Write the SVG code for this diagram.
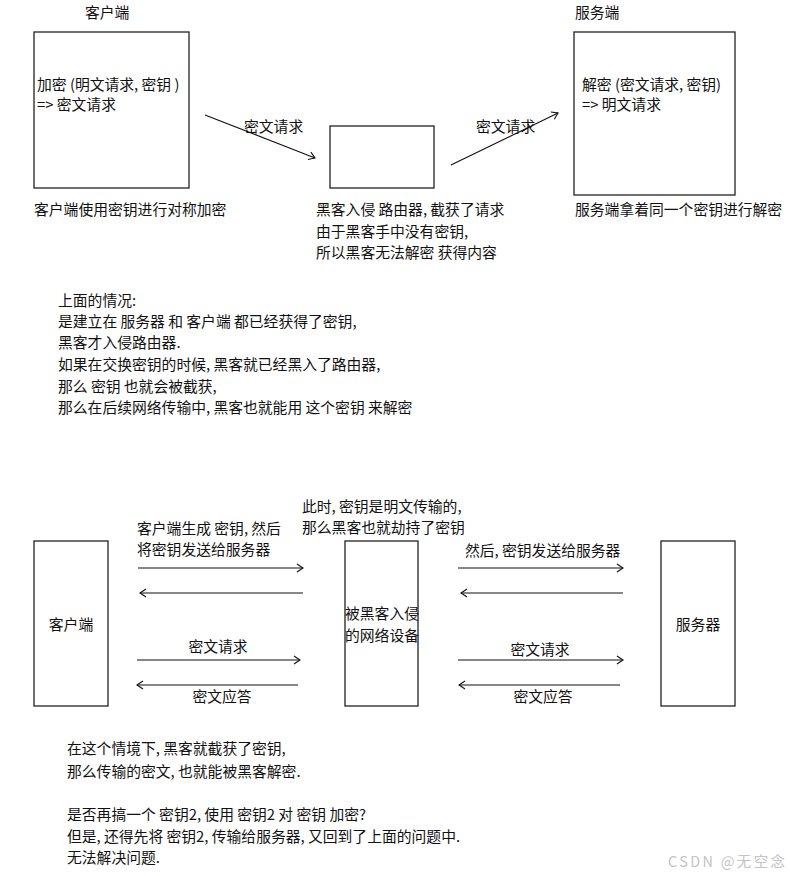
<svg xmlns="http://www.w3.org/2000/svg" width="790" height="876" viewBox="0 0 790 876">
<style>
text{font-family:"Noto Sans CJK SC","Liberation Sans",sans-serif;font-size:14.8px;fill:#111}
.box{fill:#fff;stroke:#222;stroke-width:1.3}
.ln{stroke:#111;stroke-width:1.1;fill:none}
.c{text-anchor:middle}
.wm{fill:#c4c4c4;font-size:14.5px}
</style>
<defs>
<marker id="ah" markerWidth="10" markerHeight="10" refX="8" refY="5" orient="auto" markerUnits="userSpaceOnUse">
<path d="M2,1 L8,5 L2,9" fill="none" stroke="#111" stroke-width="1.1"/>
</marker>
</defs>
<rect width="790" height="876" fill="#fff"/>

<g id="client-top">
<text x="85" y="18">客户端</text>
<rect class="box" x="34" y="32" width="155" height="156"/>
<text x="37" y="90">加密 (明文请求, 密钥 )</text>
<text x="37" y="110">=&gt; 密文请求</text>
<text x="34" y="215">客户端使用密钥进行对称加密</text>
</g>
<g id="router-top">
<rect class="box" x="330" y="126" width="104" height="62"/>
<text x="316" y="215">黑客入侵 路由器, 截获了请求</text>
<text x="316" y="237">由于黑客手中没有密钥,</text>
<text x="316" y="258">所以黑客无法解密 获得内容</text>
</g>
<g id="server-top">
<text x="575" y="18">服务端</text>
<rect class="box" x="574" y="32" width="161" height="163"/>
<text x="582" y="90">解密 (密文请求, 密钥)</text>
<text x="582" y="110">=&gt; 明文请求</text>
<text x="575" y="215">服务端拿着同一个密钥进行解密</text>
</g>

<g id="explain-1">
<text x="58" y="306">上面的情况:</text>
<text x="58" y="327">是建立在 服务器 和 客户端 都已经获得了密钥,</text>
<text x="58" y="348">黑客才入侵路由器.</text>
<text x="58" y="370">如果在交换密钥的时候, 黑客就已经黑入了路由器,</text>
<text x="58" y="392">那么 密钥 也就会被截获,</text>
<text x="58" y="413">那么在后续网络传输中, 黑客也就能用 这个密钥 来解密</text>
</g>

<g id="client-bottom">
<rect class="box" x="34" y="541" width="74" height="165"/>
<text class="c" x="71" y="630">客户端</text>
</g>
<g id="hacker-device">
<rect class="box" x="345" y="541" width="73" height="165"/>
<text x="345" y="619">被黑客入侵</text>
<text x="345" y="641">的网络设备</text>
<text x="302" y="512">此时, 密钥是明文传输的,</text>
<text x="302" y="533">那么黑客也就劫持了密钥</text>
</g>
<g id="server-bottom">
<rect class="box" x="661" y="541" width="74" height="165"/>
<text class="c" x="698" y="630">服务器</text>
</g>

<g id="connectors">
<line class="ln" x1="205" y1="115" x2="315" y2="158" marker-end="url(#ah)"/>
<line class="ln" x1="451" y1="165" x2="558" y2="113" marker-end="url(#ah)"/>
<line class="ln" x1="138" y1="568" x2="303" y2="568" marker-end="url(#ah)"/>
<line class="ln" x1="303" y1="593" x2="140" y2="593" marker-end="url(#ah)"/>
<line class="ln" x1="137" y1="660" x2="300" y2="660" marker-end="url(#ah)"/>
<line class="ln" x1="298" y1="685" x2="137" y2="685" marker-end="url(#ah)"/>
<line class="ln" x1="458" y1="568" x2="623" y2="568" marker-end="url(#ah)"/>
<line class="ln" x1="623" y1="593" x2="461" y2="593" marker-end="url(#ah)"/>
<line class="ln" x1="458" y1="660" x2="623" y2="660" marker-end="url(#ah)"/>
<line class="ln" x1="620" y1="685" x2="459" y2="685" marker-end="url(#ah)"/>
<text x="244" y="132">密文请求</text>
<text x="476" y="132">密文请求</text>
<text x="137" y="534">客户端生成 密钥, 然后</text>
<text x="137" y="555">将密钥发送给服务器</text>
<text x="465" y="556">然后, 密钥发送给服务器</text>
<text class="c" x="218" y="652">密文请求</text>
<text class="c" x="222" y="702">密文应答</text>
<text class="c" x="540" y="655">密文请求</text>
<text class="c" x="543" y="702">密文应答</text>
</g>

<g id="explain-2">
<text x="67" y="754">在这个情境下, 黑客就截获了密钥,</text>
<text x="67" y="777">那么传输的密文, 也就能被黑客解密.</text>
<text x="67" y="820">是否再搞一个 密钥2, 使用 密钥2 对 密钥 加密?</text>
<text x="67" y="842">但是, 还得先将 密钥2, 传输给服务器, 又回到了上面的问题中.</text>
<text x="67" y="863">无法解决问题.</text>
</g>
<text class="wm" x="668" y="867" textLength="117" lengthAdjust="spacing">CSDN @无空念</text>
</svg>
